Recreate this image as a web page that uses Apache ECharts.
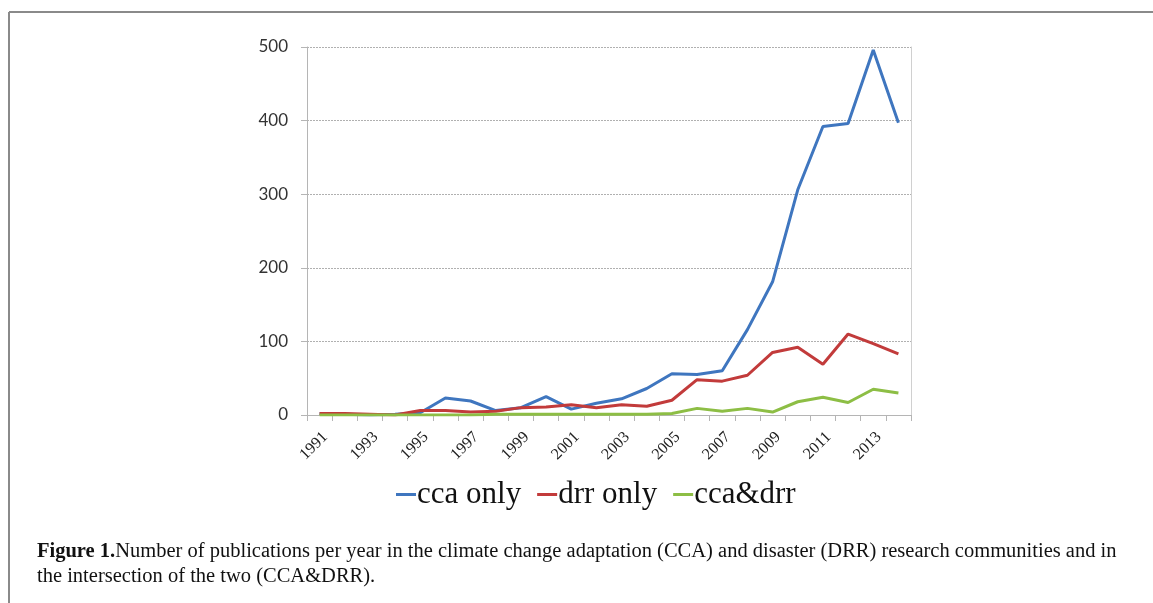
<!DOCTYPE html>
<html>
<head>
<meta charset="utf-8">
<script src="https://cdn.jsdelivr.net/npm/echarts@6/dist/echarts.min.js"></script>
<style>
  html, body { margin: 0; padding: 0; background: #fff; }
  #chart { width: 1153px; height: 603px; }
</style>
</head>
<body>
<div id="chart"></div>
<script>
// publication counts per year
const years = ["1991", "1992", "1993", "1994", "1995", "1996", "1997", "1998", "1999", "2000", "2001", "2002",
  "2003", "2004", "2005", "2006", "2007", "2008", "2009", "2010", "2011", "2012", "2013", "2014"];
const ccaOnly = [2, 1, 0, 1, 3, 23, 19, 6, 10, 25, 8, 16, 22, 36, 56, 55, 60, 116, 181, 306, 392, 396, 496, 397];
const drrOnly = [2, 2, 1, 0, 6, 6, 4, 5, 10, 11, 14, 10, 14, 12, 20, 48, 46, 54, 85, 92, 69, 110, 97, 83];
const ccaDrr = [0, 0, 0, 0, 0, 0, 0, 1, 1, 1, 1, 1, 1, 1, 2, 9, 5, 9, 4, 18, 24, 17, 35, 30];
const yTicks = [0, 100, 200, 300, 400, 500];

const chart = echarts.init(document.getElementById("chart"));

const serif = "Liberation Serif";

const option = {
  backgroundColor: "#fff",
  animation: false,
  grid: { left: 307, right: 242, top: 47, bottom: 188 },
  legend: {
    bottom: 88,
    left: 391,
    itemWidth: 20,
    itemHeight: 3,
    itemGap: 16,
    icon: "rect",
    textStyle: { fontFamily: serif, fontSize: 31, color: "#111", padding: [0, 0, 0, -4] },
    data: ["cca only", "drr only", "cca&drr"],
  },
  xAxis: {
    type: "category",
    data: years,
    boundaryGap: true,
    axisLine: { lineStyle: { color: "#b5b5b5", width: 1 } },
    axisTick: { show: true, interval: 0, length: 6, lineStyle: { color: "#b5b5b5" } },
    axisLabel: {
      interval: 1,
      rotate: 45,
      fontFamily: serif,
      fontSize: 16,
      color: "#222",
      margin: 14,
      verticalAlign: "top",
    },
  },
  yAxis: [
    {
      type: "value",
      min: 0,
      max: 500,
      interval: 100,
      axisLine: { show: true, lineStyle: { color: "#b5b5b5", width: 1 } },
      axisTick: { show: true, length: 6, lineStyle: { color: "#b5b5b5" } },
      axisLabel: {
        fontFamily: "Lato",
        fontSize: 17,
        color: "#333",
        margin: 19,
        formatter: (v) => (yTicks.includes(v) ? String(v) : ""),
      },
      splitLine: { show: true, lineStyle: { color: "#b0b0b0", type: [2, 1], width: 1 } },
    },
    {
      type: "value",
      min: 0,
      max: 500,
      interval: 100,
      position: "right",
      axisLine: { show: true, lineStyle: { color: "#d0d0d0", width: 1 } },
      axisTick: { show: false },
      axisLabel: { show: false },
      splitLine: { show: false },
    },
  ],
  series: [
    {
      name: "cca only",
      type: "line",
      data: ccaOnly,
      symbol: "none",
      color: "#3f76bf",
      lineStyle: { width: 3 },
    },
    {
      name: "drr only",
      type: "line",
      data: drrOnly,
      symbol: "none",
      color: "#c23b3b",
      lineStyle: { width: 3 },
    },
    {
      name: "cca&drr",
      type: "line",
      data: ccaDrr,
      symbol: "none",
      color: "#8dbe45",
      lineStyle: { width: 3 },
    },
  ],
  graphic: [
    // figure frame (left and top edges)
    { type: "line", shape: { x1: 9, y1: 12, x2: 9, y2: 603 }, style: { stroke: "#8a8a8a", lineWidth: 2 } },
    { type: "line", shape: { x1: 9, y1: 12, x2: 1153, y2: 12 }, style: { stroke: "#8a8a8a", lineWidth: 2 } },
    {
      type: "text",
      left: 37,
      top: 539,
      style: {
        text: "{b|Figure 1.}Number of publications per year in the climate change adaptation (CCA) and disaster (DRR) research communities and in\nthe intersection of the two (CCA&DRR).",
        font: "20.5px " + serif,
        fill: "#111",
        lineHeight: 25,
        rich: {
          b: { fontFamily: serif, fontSize: 20.5, fontWeight: "bold", fill: "#111" },
        },
      },
    },
  ],
};

chart.setOption(option);
window.addEventListener("resize", () => chart.resize());
</script>
</body>
</html>
